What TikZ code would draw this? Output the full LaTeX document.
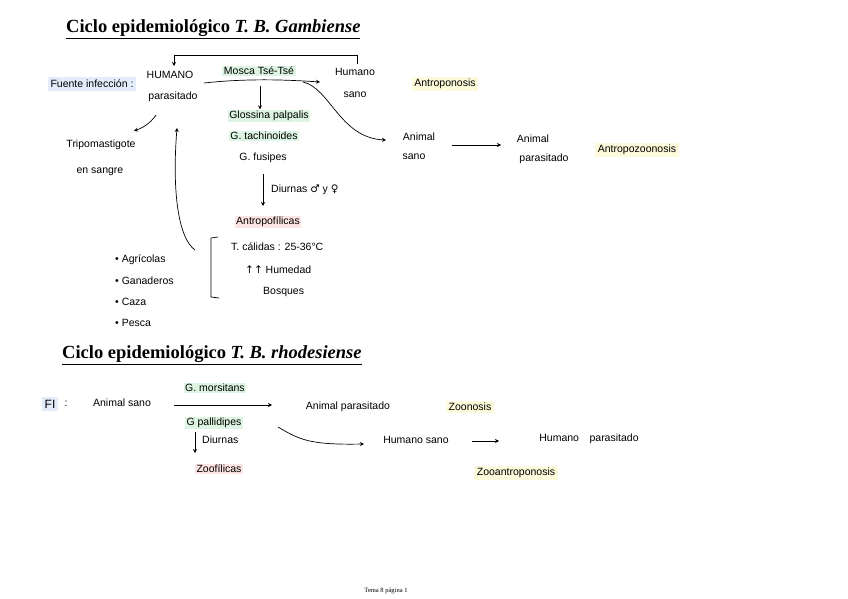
\documentclass[tikz,border=0pt]{standalone}
\usepackage{fontspec}
\setmainfont{Liberation Serif}
\newfontfamily\hand{Liberation Sans}
\newfontfamily\sym{DejaVu Sans}
\usetikzlibrary{arrows.meta}
\definecolor{hlblue}{RGB}{228,236,250}
\definecolor{hlgreen}{RGB}{222,244,226}
\definecolor{hlyellow}{RGB}{252,250,218}
\definecolor{hlpink}{RGB}{252,228,228}
\tikzset{
  note/.style={font=\hand\fontsize{10.5}{12}\selectfont, inner sep=1pt, text=black},
  title/.style={font=\bfseries\fontsize{18.5}{20}\selectfont, inner sep=0pt, anchor=west},
  hlb/.style={note, fill=hlblue, inner sep=3pt},
  hlg/.style={note, fill=hlgreen, inner sep=1.5pt},
  hly/.style={note, fill=hlyellow, inner sep=2.5pt},
  hlp/.style={note, fill=hlpink, inner sep=1.5pt},
  conn/.style={draw=black, line width=0.7pt, -{Stealth[length=4pt,width=4pt]}},
  plain/.style={draw=black, line width=0.7pt},
}
\begin{document}
\begin{tikzpicture}[x=1pt,y=-1pt]
\useasboundingbox (0,0) rectangle (848,599);
\fill[white] (0,0) rectangle (848,599);

% ---------- Section 1 ----------
\node[title] (t1) at (66,29) {\underline{Ciclo epidemiológico \textit{T. B. Gambiense}}};

\node[hlb] (fuente) at (92,84) {Fuente infección :};
\node[note] (hum) at (170,75) {HUMANO};
\node[note] (humpar) at (173,97) {parasitado};
\node[hlg] (mosca) at (259,71) {Mosca Tsé-Tsé};
\node[note] (humsano) at (355,72) {Humano};
\node[note] (humsano2) at (355,95) {sano};
\node[hly] (antrop) at (445,84) {Antroponosis};

\coordinate (harrS) at (204,83);
\coordinate (harrE) at (320,82);
\draw[conn] (harrS) .. controls (250,78) and (290,80) .. (harrE);

% top feedback bracket
\coordinate (brA) at (357,64);
\coordinate (brB) at (357,55);
\coordinate (brC) at (174,55);
\coordinate (brD) at (174,66);
\draw[plain] (brA) -- (brB) -- (brC);
\draw[conn] (brC) -- (brD);

% down from mosca
\node[hlg] (gpal) at (269,116) {Glossina palpalis};
\node[hlg] (gtac) at (264,136) {G. tachinoides};
\node[note] (gfus) at (263,158) {G. fusipes};
\draw[conn] (260,86) -- (gpal.north -| 260,0);

\coordinate (dA) at (263,174);
\coordinate (dB) at (263,206);
\draw[conn] (dA) -- (dB);
\node[note, anchor=west] (diurnas) at (270,190) {Diurnas {\sym ♂} y {\sym ♀}};
\node[hlp] (antropof) at (268,222) {Antropofílicas};

% bracket
\coordinate (bk1) at (218,237);
\coordinate (bk2) at (211,238);
\coordinate (bk3) at (211,297);
\coordinate (bk4) at (219,298);
\draw[plain] (bk1) -- (bk2) -- (bk3) -- (bk4);
\node[note, anchor=west] (tcal) at (230,247) {T. cálidas : 25-36°C};
\node[note, anchor=west] (humed) at (244,270) {{\sym ↑↑} Humedad};
\node[note, anchor=west] (bosq) at (262,292) {Bosques};

\node[note, anchor=west] (b1) at (114,260) {• Agrícolas};
\node[note, anchor=west] (b2) at (114,281) {• Ganaderos};
\node[note, anchor=west] (b3) at (114,302) {• Caza};
\node[note, anchor=west] (b4) at (114,323) {• Pesca};

\coordinate (upS) at (195,250);
\coordinate (upE) at (177,128);
\draw[conn] (upS) .. controls (178,238) and (172,190) .. (upE);

% to tripomastigote
\node[note] (trip) at (101,145) {Tripomastigote};
\node[note] (sangre) at (100,172) {en sangre};
\coordinate (tpS) at (156,115);
\coordinate (tpE) at (134,131);
\draw[conn] (tpS) .. controls (150,124) and (142,128) .. (tpE);

% curve to animal sano
\node[note] (anis) at (419,137) {Animal};
\node[note] (anis2) at (414,157) {sano};
\coordinate (cvS) at (303,82);
\coordinate (cvE) at (386,140);
\draw[conn] (cvS) .. controls (330,88) and (340,138) .. (cvE);

\node[note] (anip) at (533,139) {Animal};
\node[note] (anip2) at (544,159) {parasitado};
\draw[conn] (452,145) -- (501,145);
\node[hly] (antropoz) at (637,150) {Antropozoonosis};

% ---------- Section 2 ----------
\node[title] (t2) at (62,355) {\underline{Ciclo epidemiológico \textit{T. B. rhodesiense}}};

\node[hlb, font=\hand\fontsize{12}{13}\selectfont, inner sep=2.5pt] (fi) at (50,404) {FI};
\node[note] (fic) at (66,404) {:};
\node[note] (ans2) at (122,403) {Animal sano};
\node[hlg] (gmor) at (215,388) {G. morsitans};
\node[note] (anp2) at (348,407) {Animal parasitado};
\node[hly] (zoon) at (470,407) {Zoonosis};
\draw[conn] (174,405) -- (272,405);

\node[hlg] (gpalli) at (214,423) {G pallidipes};
\draw[conn] (195,432) -- (195,453);
\node[note, anchor=west] (diur2) at (201,440) {Diurnas};
\node[hlp] (zoof) at (219,469) {Zoofílicas};

\node[note] (hs) at (416,440) {Humano sano};
\coordinate (wvS) at (278,427);
\coordinate (wvE) at (364,444);
\draw[conn] (wvS) .. controls (300,440) and (310,445) .. (wvE);
\draw[conn] (472,441) -- (499,441);
\node[note] (hp) at (589,439) {Humano\quad parasitado};
\node[hly] (zooan) at (516,473) {Zooantroponosis};

\node[font=\fontsize{6.5}{7}\selectfont, inner sep=0pt] (foot) at (386,591) {Tema 8 página 1};
\end{tikzpicture}
\end{document}
